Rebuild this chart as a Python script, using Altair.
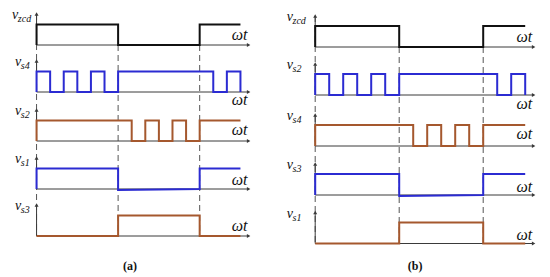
import altair as alt
import pandas as pd

# ---------------- waveform data (time unit = half of the zcd period) ----------------
ZCD_T = [0, 0, 1, 2, 2.5]
ZCD_L = [0, 1, 0, 1, 1]
CHOP1_T = [0, 0, 1/6, 2/6, 3/6, 4/6, 5/6, 1, 13/6, 14/6, 2.5]
CHOP1_L = [0, 1, 0, 1, 0, 1, 0, 1, 0, 1, 0]
CHOP2_T = [0, 0, 7/6, 8/6, 9/6, 10/6, 11/6, 2, 2.5]
CHOP2_L = [0, 1, 0, 1, 0, 1, 0, 1, 1]
ON1_T = [0, 0, 1, 1, 2, 2, 2.5]
ON1_L = [0, 1, 1, -0.05, 0, 1, 1]
ON2_T = [0, 1, 2, 2.5]
ON2_L = [0, 1, 0, 0]

WAVES = {
    "zcd": (ZCD_T, ZCD_L, "step-after"),
    "chop1": (CHOP1_T, CHOP1_L, "step-after"),
    "chop2": (CHOP2_T, CHOP2_L, "step-after"),
    "on1": (ON1_T, ON1_L, "linear"),
    "on2": (ON2_T, ON2_L, "step-after"),
}
ROW_WAVES = ["zcd", "chop1", "chop2", "on1", "on2"]
ROW_COLORS = ["#111111", "#2b2bd2", "#a5582e", "#2b2bd2", "#a5582e"]
PANEL_A_SUBS = ["zcd", "s4", "s2", "s1", "s3"]
PANEL_B_SUBS = ["zcd", "s2", "s4", "s3", "s1"]
DASH_T = [0, 1, 2]
AXIS_END_T = 2.6
WT_T = 2.49

# ---------------- layout (page pixels) ----------------
Y0, Y1 = 8, 272
AX = "#3a3a3a"
FONT = "Times New Roman"
PANELS = [
    dict(subs=PANEL_A_SUBS, caption="(a)", width=261, xdom=[-0.35, 2.85],
         base=[43, 90, 139, 187, 234], amp=20.5, wt_dy=[-5, 13, -6, -4.5, -5.5],
         v_dx=[-24.5, -21.5, -21.5, -21.5, -21.5], sub_gap=5.8, cap_t=1.146),
    dict(subs=PANEL_B_SUBS, caption="(b)", width=252, xdom=[-0.3, 2.7],
         base=[45, 93, 144, 193, 241.5], amp=21, wt_dy=[-5, 13.5, -7, -3, -3.5],
         v_dx=[-28.5] * 5, sub_gap=5.8, cap_t=1.19),
]


def panel(P):
    unit = P["width"] / (P["xdom"][1] - P["xdom"][0])
    xs = alt.Scale(domain=P["xdom"], nice=False, zero=False)
    ys = alt.Scale(domain=[Y0, Y1], reverse=True, nice=False, zero=False)

    def X(f):
        return alt.X(f, type="quantitative", scale=xs, axis=None)

    def Y(f):
        return alt.Y(f, type="quantitative", scale=ys, axis=None)

    # signals
    rows = []
    for r, w in enumerate(ROW_WAVES):
        T, L, interp = WAVES[w]
        for i, (t, l) in enumerate(zip(T, L)):
            rows.append(dict(row=r, i=i, t=t, level=l, base=P["base"][r], amp=P["amp"],
                             color=ROW_COLORS[r], interp=interp))
    sig = pd.DataFrame(rows)

    def sig_layer(interp):
        return (alt.Chart(sig[sig.interp == interp])
                .transform_calculate(y="datum.base - datum.level * datum.amp")
                .mark_line(interpolate=interp, strokeWidth=2, strokeJoin="miter")
                .encode(x=X("t"), y=Y("y"), color=alt.Color("color:N", scale=None),
                        detail="row:N", order="i:Q"))

    base = P["base"]
    axes = pd.DataFrame(dict(row=range(5), t0=0.0, tend=AXIS_END_T, base=base,
                             top=[b - 31 for b in base]))
    dash = pd.DataFrame(dict(t=DASH_T, y1=[base[0] - 31, base[0], base[0]], y2=[base[-1]] * 3))

    lab = pd.DataFrame(dict(
        sub=P["subs"],
        tv=[d / unit for d in P["v_dx"]],
        ts=[(d + P["sub_gap"]) / unit for d in P["v_dx"]],
        yv=[b - 26 for b in base],
        ys=[b - 23 for b in base],
        tw=[WT_T] * 5,
        yw=[b + d for b, d in zip(base, P["wt_dy"])],
    ))
    cap = pd.DataFrame(dict(t=[P["cap_t"]], y=[268], txt=[P["caption"]]))

    layers = [
        alt.Chart(dash).mark_rule(color="#555555", strokeWidth=1, strokeDash=[6, 4])
        .encode(x=X("t"), y=Y("y1"), y2="y2:Q"),
        alt.Chart(axes).mark_rule(color=AX, strokeWidth=1).encode(x=X("t0"), y=Y("base"), y2="top:Q"),
        alt.Chart(axes).mark_rule(color=AX, strokeWidth=1).encode(x=X("t0"), x2="tend:Q", y=Y("base")),
        alt.Chart(axes).mark_point(shape="triangle-up", filled=True, size=16, color=AX, opacity=1)
        .encode(x=X("t0"), y=Y("top")),
        alt.Chart(axes).mark_point(shape="triangle-right", filled=True, size=16, color=AX, opacity=1)
        .encode(x=X("tend"), y=Y("base")),
        sig_layer("step-after"),
        sig_layer("linear"),
        alt.Chart(lab).mark_text(text="v", font=FONT, fontStyle="italic", fontSize=14,
                                 align="left", baseline="alphabetic", color="#111111")
        .encode(x=X("tv"), y=Y("yv")),
        alt.Chart(lab).mark_text(font=FONT, fontStyle="italic", fontSize=10,
                                 align="left", baseline="alphabetic", color="#111111")
        .encode(x=X("ts"), y=Y("ys"), text="sub:N"),
        alt.Chart(lab).mark_text(text="ωt", font=FONT, fontStyle="italic", fontSize=16,
                                 align="center", baseline="alphabetic", color="#111111")
        .encode(x=X("tw"), y=Y("yw")),
        alt.Chart(cap).mark_text(font=FONT, fontWeight="bold", fontSize=12,
                                 align="center", baseline="alphabetic", color="#111111")
        .encode(x=X("t"), y=Y("y"), text="txt:N"),
    ]
    return alt.layer(*layers).properties(width=P["width"], height=Y1 - Y0)


chart = (alt.hconcat(panel(PANELS[0]), panel(PANELS[1]), spacing=21, bounds="flush")
         .properties(padding=0)
         .configure_view(stroke=None))

chart.save("out.html", embed_options={"renderer": "svg", "actions": False})
